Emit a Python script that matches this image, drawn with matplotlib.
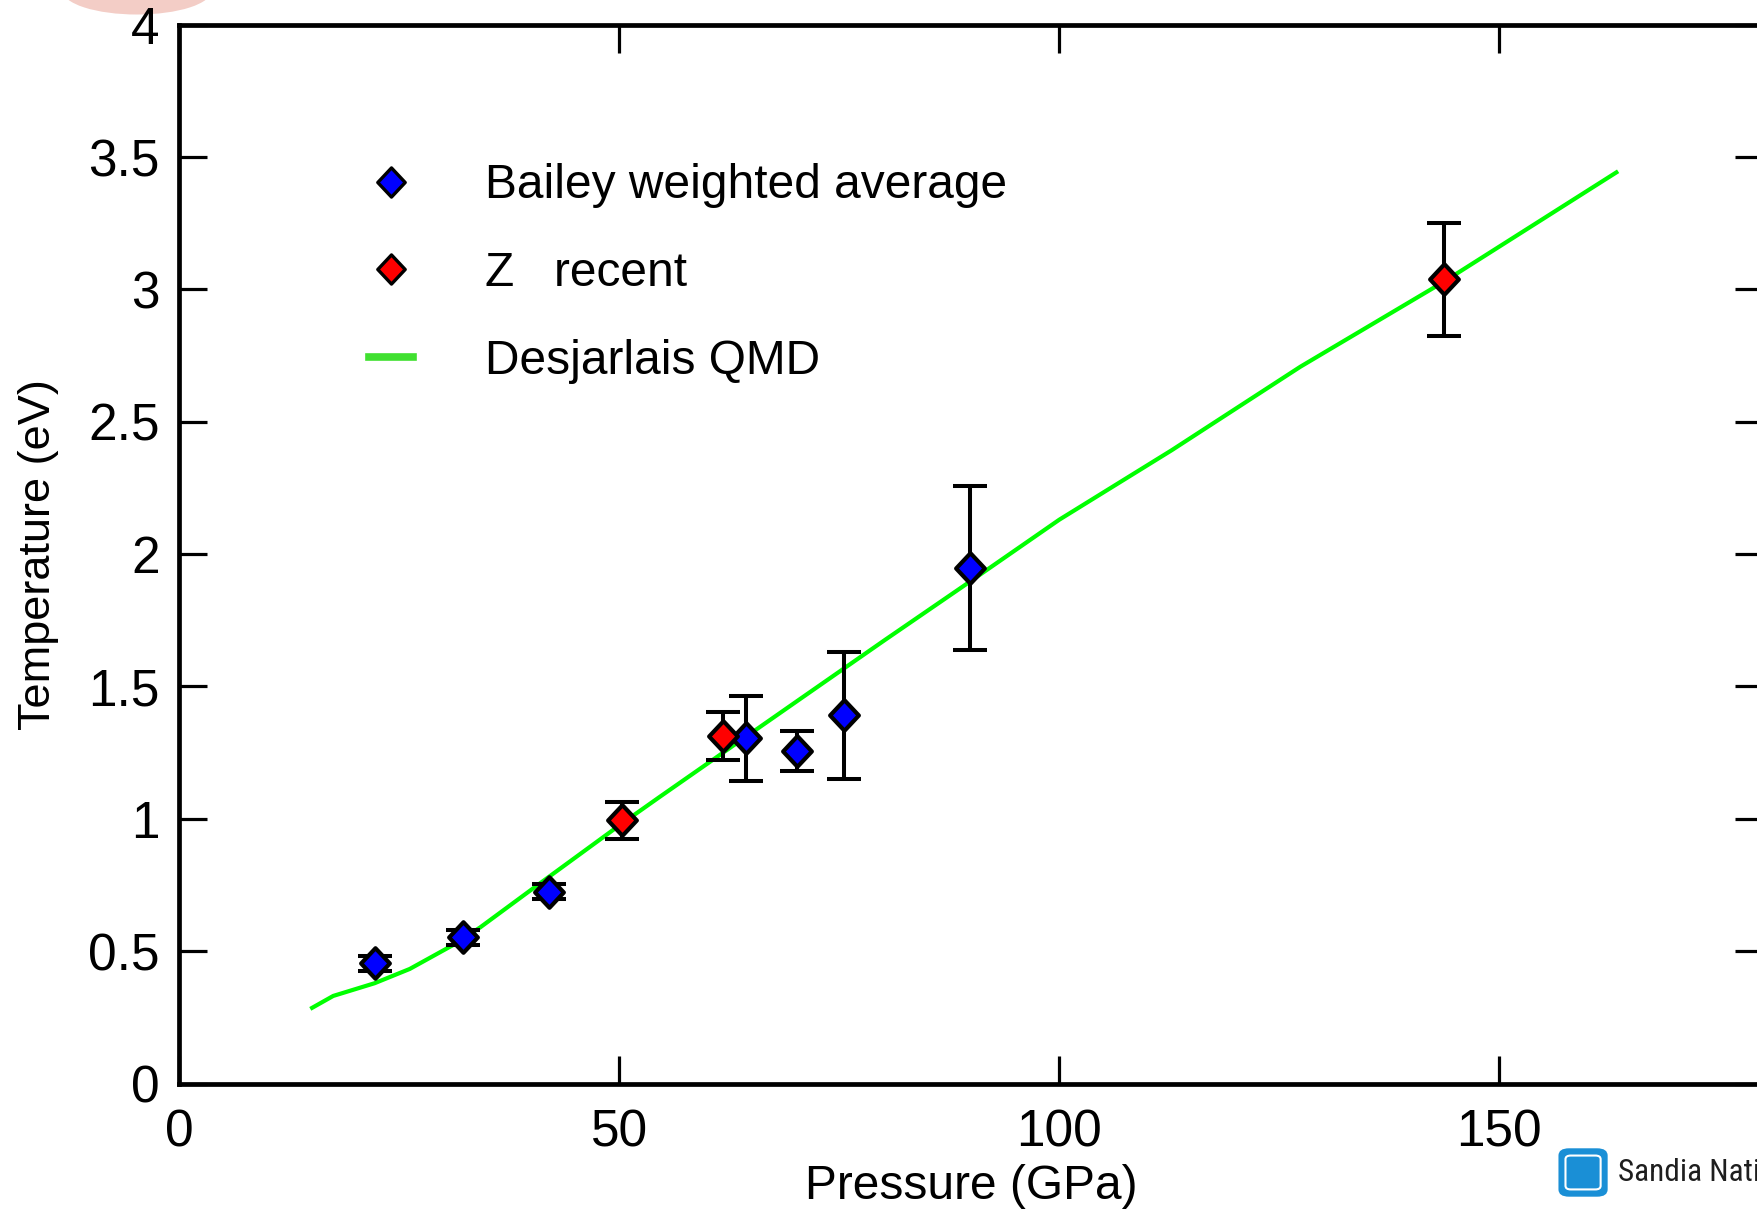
import numpy as np
import matplotlib.pyplot as plt
from matplotlib.lines import Line2D
from matplotlib.path import Path
from matplotlib.patches import FancyBboxPatch, Ellipse
from matplotlib.ticker import FormatStrFormatter

plt.rcParams['font.family'] = ['Liberation Sans', 'DejaVu Sans']

# Bailey weighted average (blue)
bailey_p = [22.2, 32.3, 42.0, 64.4, 70.2, 75.5, 89.8]
bailey_t = [0.454, 0.552, 0.725, 1.304, 1.257, 1.392, 1.946]
bailey_err = [0.027, 0.028, 0.028, 0.16, 0.075, 0.24, 0.31]

# Z recent (red)
z_p = [50.3, 61.8, 143.75]
z_t = [0.995, 1.314, 3.038]
z_err = [0.07, 0.091, 0.213]

# Desjarlais QMD (green line)
qmd_p = [15.1, 17.5, 22.2, 26.2, 31.1, 34.2, 40.2, 50.0, 54.6, 61.8, 70.0,
         80.2, 89.8, 100.0, 112.8, 127.4, 143.75, 163.3]
qmd_t = [0.286, 0.331, 0.379, 0.433, 0.523, 0.590, 0.737, 0.975, 1.083, 1.25,
         1.44, 1.676, 1.895, 2.13, 2.393, 2.708, 3.03, 3.442]

labels = ['Bailey weighted average', 'Z   recent', 'Desjarlais QMD']

diamond = Path([(0, 1), (0.94, 0), (0, -1), (-0.94, 0), (0, 1)],
               [Path.MOVETO, Path.LINETO, Path.LINETO, Path.LINETO, Path.CLOSEPOLY])

fig = plt.figure(figsize=(17.57, 12.10), dpi=100)

# faint round logo peeking in at the top left
fig.patches.append(Ellipse((0.078, 1.008), 0.085, 0.04, transform=fig.transFigure,
                           facecolor='#f3cdc6', edgecolor='none', zorder=-5))

ax = fig.add_axes([0.1020, 0.1045, 0.9016, 0.8751])
ax.patch.set_alpha(0)

ax.plot(qmd_p, qmd_t, color='#00ff00', lw=3, zorder=2)

ax.errorbar(bailey_p, bailey_t, yerr=bailey_err, fmt='none', ecolor='k',
            elinewidth=2.9, capsize=12.5, capthick=2.9, zorder=3)
ax.errorbar(z_p, z_t, yerr=z_err, fmt='none', ecolor='k',
            elinewidth=2.9, capsize=12.5, capthick=2.9, zorder=3)

ax.plot(bailey_p, bailey_t, ls='none', marker=diamond, ms=22, mfc='#0000ff',
        mec='k', mew=3, zorder=4)
ax.plot(z_p, z_t, ls='none', marker=diamond, ms=22, mfc='#ff0000',
        mec='k', mew=3, zorder=4)

ax.set_xlim(0, 180)
ax.set_ylim(0, 4)
ax.set_xticks([0, 50, 100, 150])
ax.set_yticks(np.arange(0, 4.01, 0.5))
ax.yaxis.set_major_formatter(FormatStrFormatter('%g'))
ax.tick_params(direction='in', top=True, right=True, length=20, width=2.3,
               labelsize=37, pad=14)
ax.tick_params(axis='x', pad=18)
for s in ax.spines.values():
    s.set_linewidth(3.4)

ax.set_xlabel('Pressure (GPa)', fontsize=34.5, labelpad=5)
ax.set_ylabel('Temperature (eV)', fontsize=32.5, labelpad=21)

handles = [
    Line2D([], [], ls='none', marker=diamond, ms=21, mfc='#0000ff', mec='k', mew=2.4),
    Line2D([], [], ls='none', marker=diamond, ms=21, mfc='#ff0000', mec='k', mew=2.4),
    Line2D([], [], color='#40e030', lw=5.5),
]
ax.legend(handles, labels, loc='upper left', bbox_to_anchor=(0.1196, 0.869),
          frameon=False, fontsize=34.5, handlelength=0.93, handletextpad=1.5,
          labelspacing=0.89, borderpad=0, borderaxespad=0)

# Sandia logo at the bottom right
fig.patches.append(FancyBboxPatch((0.887, 0.011), 0.028, 0.040,
                                  boxstyle='round,pad=0,rounding_size=0.006',
                                  transform=fig.transFigure, facecolor='#1a8fd6',
                                  edgecolor='none'))
fig.patches.append(FancyBboxPatch((0.891, 0.017), 0.020, 0.028,
                                  boxstyle='round,pad=0,rounding_size=0.003',
                                  transform=fig.transFigure, facecolor='#1a8fd6',
                                  edgecolor='white', lw=1.5))
fig.text(0.921, 0.031, 'Sandia National Laboratories', fontsize=22.5,
         family=['Roboto Condensed', 'Liberation Sans Narrow', 'Liberation Sans'],
         fontstretch='condensed', color='#1e1e1e', va='center', ha='left')

fig.savefig('out.png', dpi=100)
